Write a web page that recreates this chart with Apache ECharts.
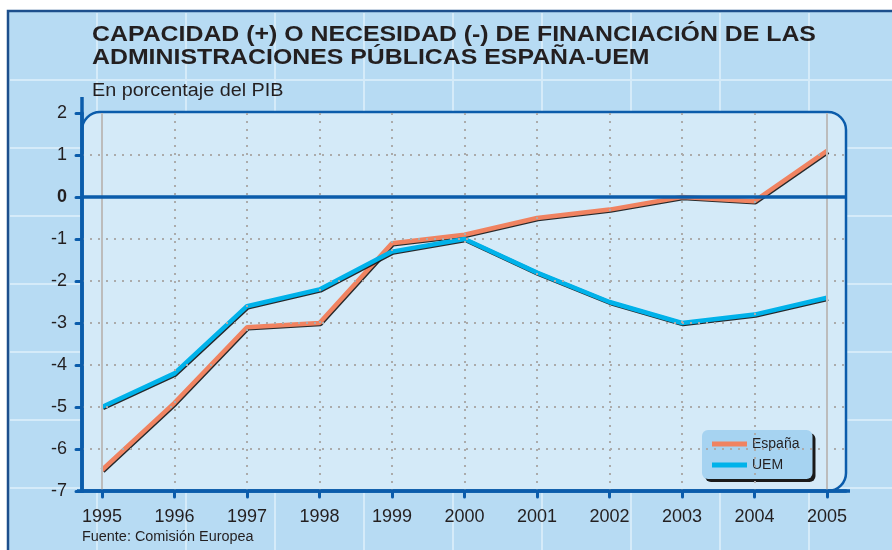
<!DOCTYPE html>
<html>
<head>
<meta charset="utf-8">
<script src="https://cdn.jsdelivr.net/npm/echarts@6/dist/echarts.min.js"></script>
<style>
  html, body { margin: 0; padding: 0; background: #fff; }
  #chart { width: 892px; height: 550px; }
</style>
</head>
<body>
<div id="chart"></div>
<script>
// datos
const years = [1995, 1996, 1997, 1998, 1999, 2000, 2001, 2002, 2003, 2004, 2005];
const espana = [-6.5, -4.9, -3.1, -3.0, -1.1, -0.9, -0.5, -0.3, 0.0, -0.1, 1.1];
const uem = [-5.0, -4.2, -2.6, -2.2, -1.3, -1.0, -1.8, -2.5, -3.0, -2.8, -2.4];
const yTicks = [-7, -6, -5, -4, -3, -2, -1, 0, 1, 2];

const titleText = 'CAPACIDAD (+) O NECESIDAD (-) DE FINANCIACIÓN DE LAS\nADMINISTRACIONES PÚBLICAS ESPAÑA-UEM';
const subText = 'En porcentaje del PIB';
const sourceText = 'Fuente: Comisión Europea';

// layout
const G = { left: 82, top: 113, right: 46, bottom: 59 };
const W = 892, H = 550;
const gx1 = G.left, gx2 = W - G.right, gy1 = G.top, gy2 = H - G.bottom;

const DARK = '#0b5cab';
const TXT = '#231f20';
const FONT = '"Liberation Sans", Arial, sans-serif';

function pairs(vals) {
  return years.map((y, i) => [y, vals[i]]);
}

// fondo y marco
const deco = [];
deco.push({ type: 'rect', z: -10, shape: { x: 0, y: 0, width: W, height: H }, style: { fill: '#ffffff' } });
deco.push({ type: 'rect', z: -9, shape: { x: 8, y: 11, width: W + 20, height: H + 20 },
  style: { fill: '#b7dbf3', stroke: '#1d4f8c', lineWidth: 2.5 } });
for (let x = 97; x < W; x += 89) {
  deco.push({ type: 'line', z: -8, shape: { x1: x, y1: 13, x2: x, y2: H }, style: { stroke: '#d5ebf9', lineWidth: 2 } });
}
for (let y = 80; y < H; y += 68) {
  deco.push({ type: 'line', z: -8, shape: { x1: 10, y1: y, x2: W, y2: y }, style: { stroke: '#d5ebf9', lineWidth: 2 } });
}
deco.push({ type: 'rect', z: -7, shape: { x: gx1, y: gy1 - 1, width: gx2 - gx1, height: gy2 - gy1 + 1, r: [18, 18, 18, 0] },
  style: { fill: '#d4eaf8', stroke: DARK, lineWidth: 2.5 } });
// prolongacion de los ejes
deco.push({ type: 'line', z: 10, shape: { x1: gx1, y1: gy1 - 16, x2: gx1, y2: gy2 + 2 }, style: { stroke: DARK, lineWidth: 3.5 } });
deco.push({ type: 'line', z: 10, shape: { x1: gx1 - 5, y1: gy2, x2: gx2 + 4, y2: gy2 }, style: { stroke: DARK, lineWidth: 3.5 } });

// textos (ensanchados como en el original)
deco.push({ type: 'text', z: 5, x: 92, y: 23, scaleX: 1.13,
  style: { text: titleText, fontSize: 22, fontWeight: 'bold', fontFamily: FONT, fill: TXT, lineHeight: 23, verticalAlign: 'top' } });
deco.push({ type: 'text', z: 5, x: 92, y: 82, scaleX: 1.1,
  style: { text: subText, fontSize: 18, fontFamily: FONT, fill: TXT, verticalAlign: 'top' } });
deco.push({ type: 'text', z: 5, x: 82, y: 530, scaleX: 1.03,
  style: { text: sourceText, fontSize: 14, fontFamily: FONT, fill: TXT, verticalAlign: 'top' } });

const dotted = { color: '#ababab', width: 2, type: [2, 6] };
const vGrid = years.filter(y => y !== years[0] && y !== years[years.length - 1])
  .map(y => ({ xAxis: y, lineStyle: dotted }));
const vEdge = [years[0], years[years.length - 1]]
  .map(y => ({ xAxis: y, lineStyle: { color: '#bcbcbc', width: 2, type: 'solid' } }));
const hGrid = yTicks.filter(v => v !== 0 && v !== yTicks[0] && v !== yTicks[yTicks.length - 1])
  .map(v => ({ yAxis: v, lineStyle: dotted }));

const chart = echarts.init(document.getElementById('chart'), null, { renderer: 'canvas' });
const option = {
  animation: false,
  textStyle: { fontFamily: FONT },
  graphic: { elements: deco },
  legend: {
    data: ['España', 'UEM'],
    orient: 'vertical',
    left: 702, top: 430,
    padding: [7, 13, 7, 10],
    itemGap: 7,
    itemWidth: 35, itemHeight: 5,
    icon: 'rect',
    backgroundColor: '#a6d3f1',
    borderRadius: 6,
    shadowColor: '#1a1a1a', shadowOffsetX: 3, shadowOffsetY: 3, shadowBlur: 0,
    textStyle: { fontSize: 14, color: TXT, fontFamily: FONT }
  },
  grid: { left: G.left, right: G.right, top: G.top, bottom: G.bottom, containLabel: false },
  xAxis: {
    type: 'value',
    min: 1995 - 20 / 72.5,
    max: 2005 + 19 / 72.5,
    axisLine: { show: true, onZero: false, lineStyle: { color: DARK, width: 3.5 } },
    axisTick: { show: true, customValues: years, length: 6, lineStyle: { color: DARK, width: 3, cap: 'round' } },
    axisLabel: { customValues: years, formatter: v => String(v), fontSize: 18, color: TXT, margin: 17, fontFamily: FONT },
    splitLine: { show: false }
  },
  yAxis: {
    type: 'value',
    min: -7, max: 2, interval: 1,
    axisLine: { show: true, lineStyle: { color: DARK, width: 3.5 } },
    axisTick: { show: true, length: 6, lineStyle: { color: DARK, width: 3, cap: 'round' } },
    axisLabel: {
      fontSize: 18, color: TXT, margin: 15, fontFamily: FONT,
      formatter: v => v === 0 ? '{b|0}' : String(v),
      rich: { b: { fontSize: 18, fontWeight: 'bold', color: TXT, fontFamily: FONT } }
    },
    splitLine: { show: false }
  },
  series: [
    {
      name: 'grid', type: 'line', data: [], z: 1, silent: true,
      markLine: { silent: true, symbol: 'none', label: { show: false }, animation: false,
        data: vGrid.concat(hGrid, vEdge) }
    },
    {
      name: 'zero', type: 'line', data: [], z: 1, silent: true,
      markLine: { silent: true, symbol: 'none', label: { show: false }, animation: false,
        data: [{ yAxis: 0, lineStyle: { color: DARK, width: 3.5, type: 'solid' } }] }
    },
    {
      name: 'España', type: 'line', data: pairs(espana), z: 3,
      showSymbol: false, color: '#f08361',
      lineStyle: { width: 4.5, color: '#f08361', shadowColor: 'rgba(20,20,20,0.9)', shadowOffsetX: 1, shadowOffsetY: 1, shadowBlur: 0 }
    },
    {
      name: 'UEM', type: 'line', data: pairs(uem), z: 4,
      showSymbol: false, color: '#00b2ea',
      lineStyle: { width: 4.5, color: '#00b2ea', shadowColor: 'rgba(20,20,20,0.9)', shadowOffsetX: 1, shadowOffsetY: 1, shadowBlur: 0 }
    }
  ]
};
chart.setOption(option);
</script>
</body>
</html>
